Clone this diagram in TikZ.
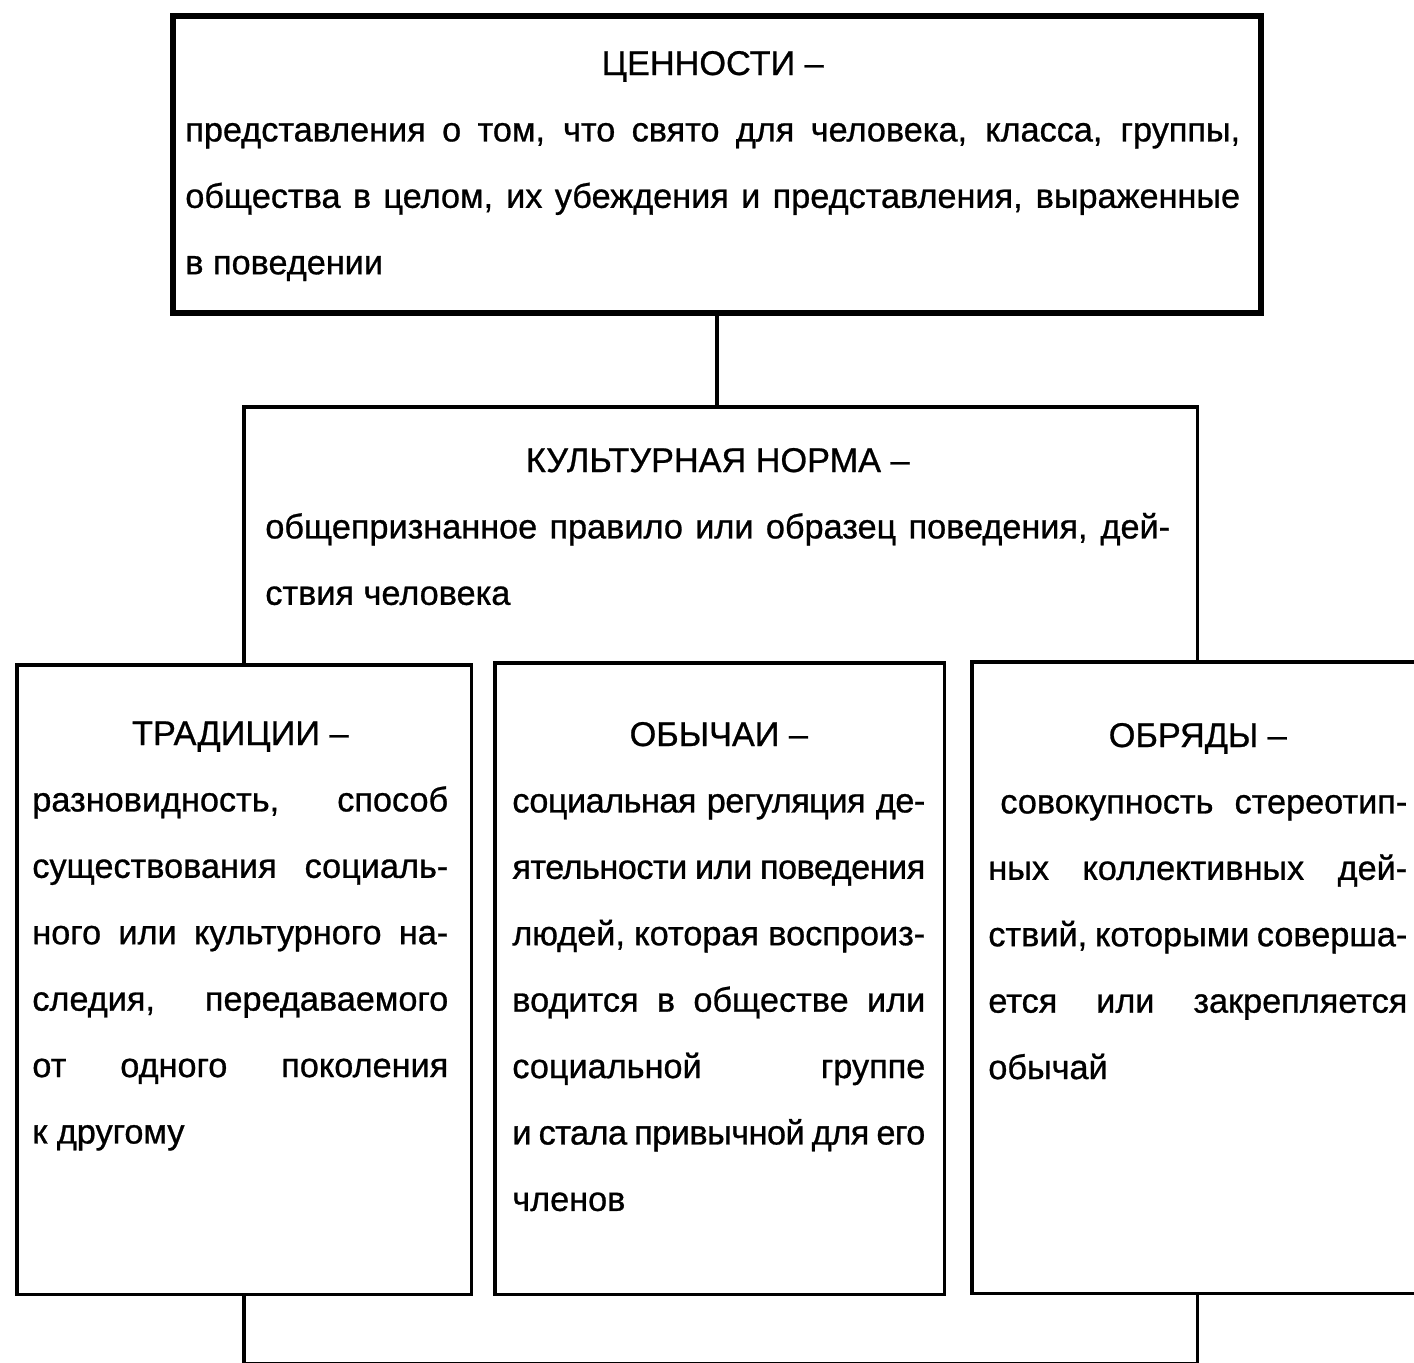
\documentclass[tikz,border=0pt]{standalone}
\usepackage{fontspec}
\setmainfont{Liberation Sans}[FakeBold=0.8]
\usepackage{tikz}
\newcommand{\fullline}[1]{\makebox[\linewidth][s]{#1}}
\newcommand{\tightline}[1]{\makebox[\linewidth][s]{\addfontfeatures{LetterSpace=-1.5}#1}}
\newcommand{\midline}[1]{\makebox[\linewidth]{#1}}
\tikzstyle{boxThin}=[shape = rectangle, draw, line width = 2pt, fill = white, inner sep = 0pt, anchor = north west]
\tikzstyle{boxThick}=[shape = rectangle, draw, line width = 3.4pt, fill = white, inner sep = 0pt, anchor = north west]

\begin{document}
\begin{tikzpicture}[x = 0.02cm, y = -0.02cm]
\tikzstyle{textStyle}=[inner sep = 0pt, anchor = base west, font = \fontsize{19.5}{37.8}\selectfont]
\tikzstyle{linkStyle}=[line width = 2pt]
\useasboundingbox (0,0) rectangle (1414,1363);
\node[boxThin, minimum width = 19.08cm, minimum height = 19.14cm] (norm) at (242,405) {};
\node[boxThin, minimum width = 9.1cm, minimum height = 12.6cm] (trad) at (15,663) {};
\node[boxThin, minimum width = 9.0cm, minimum height = 12.64cm] (cust) at (493,661) {};
\node[boxThin, minimum width = 9.0cm, minimum height = 12.64cm] (rite) at (970,660) {};
\node[boxThick, minimum width = 21.76cm, minimum height = 5.94cm] (values) at (170,13) {};
\draw[linkStyle] (values.south) -- (values.south |- norm.north);
\node[textStyle] (valuesText) at (185,75) {\parbox[t]{21.1cm}{\raggedright
\midline{ЦЕННОСТИ –}\\
\fullline{представления о том, что свято для человека, класса, группы,}\\
\fullline{общества в целом, их убеждения и представления, выраженные}\\
в поведении}};
\node[textStyle] (normText) at (265,472) {\parbox[t]{18.1cm}{\raggedright
\midline{КУЛЬТУРНАЯ НОРМА –}\\
\fullline{общепризнанное правило или образец поведения, дей-}\\
ствия человека}};
\node[textStyle] (tradText) at (32,745) {\parbox[t]{8.32cm}{\raggedright
\midline{ТРАДИЦИИ –}\\
\fullline{разновидность, способ}\\
\fullline{существования социаль-}\\
\fullline{ного или культурного на-}\\
\fullline{следия, передаваемого}\\
\fullline{от одного поколения}\\
к другому}};
\node[textStyle] (custText) at (512,746) {\parbox[t]{8.26cm}{\raggedright
\midline{ОБЫЧАИ –}\\
\tightline{социальная регуляция де-}\\
\tightline{ятельности или поведения}\\
\fullline{людей, которая воспроиз-}\\
\fullline{водится в обществе или}\\
\fullline{социальной группе}\\
\tightline{и стала привычной для его}\\
членов}};
\node[textStyle] (riteText) at (988,747) {\parbox[t]{8.38cm}{\raggedright
\midline{ОБРЯДЫ –}\\
\fullline{\hspace*{0.24cm}совокупность стереотип-}\\
\fullline{ных коллективных дей-}\\
\fullline{ствий, которыми соверша-}\\
\fullline{ется или закрепляется}\\
обычай}};
\end{tikzpicture}
\end{document}
